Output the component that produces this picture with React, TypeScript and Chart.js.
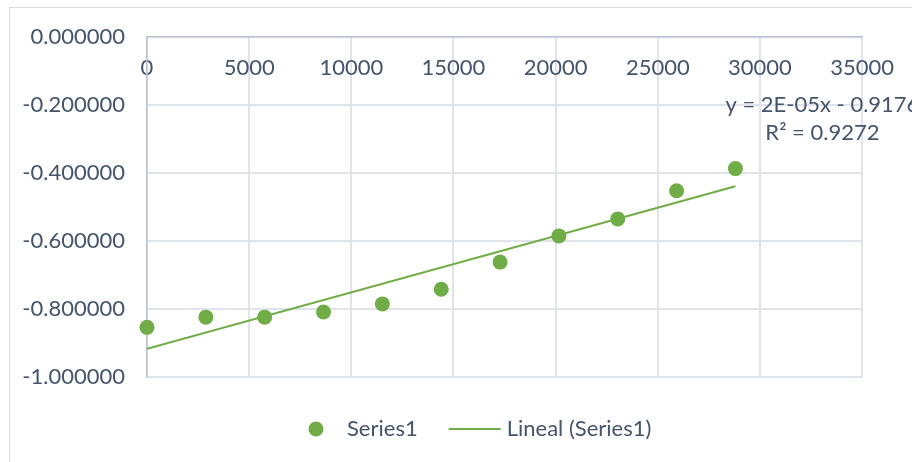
import React, { useEffect, useRef } from "react";
import { Chart, registerables } from "chart.js";

Chart.register(...registerables);

// ---- Data ----
const xValues = [0, 2880, 5760, 8640, 11520, 14400, 17280, 20160, 23040, 25920, 28800];
const yValues = [-0.854, -0.824, -0.824, -0.809, -0.785, -0.742, -0.662, -0.585, -0.535, -0.452, -0.387];
const seriesName = "Series1";
const trendName = "Lineal (Series1)";
const trendEquation = "y = 2E-05x - 0.9176";
const trendR2 = "R² = 0.9272";
const xTickValues = [0, 5000, 10000, 15000, 20000, 25000, 30000, 35000];
const yTickValues = [0, -0.2, -0.4, -0.6, -0.8, -1.0];

// ---- Style ----
const GREEN = "#70AD47";
const TEXT = "#44546A";
const GRID = "#DFE3EA";
const AXIS = "#BCC3CE";
const FONT = "Lato";
const FONT_SIZE = 22;

function linearFit(xs: number[], ys: number[]) {
  const n = xs.length;
  const mx = xs.reduce((a, b) => a + b, 0) / n;
  const my = ys.reduce((a, b) => a + b, 0) / n;
  let sxy = 0;
  let sxx = 0;
  for (let i = 0; i < n; i++) {
    sxy += (xs[i] - mx) * (ys[i] - my);
    sxx += (xs[i] - mx) * (xs[i] - mx);
  }
  const slope = sxy / sxx;
  return { slope, intercept: my - slope * mx };
}

const decorPlugin = {
  id: "decor",
  beforeDraw(chart: any) {
    const ctx = chart.ctx;
    ctx.save();
    ctx.strokeStyle = "#D9D9D9";
    ctx.lineWidth = 1;
    ctx.strokeRect(9.5, 7.5, 2000, 2000);
    ctx.restore();
  },
  afterDraw(chart: any) {
    const ctx = chart.ctx;
    const xs = chart.scales.x;
    ctx.save();
    ctx.font = `${FONT_SIZE}px ${FONT}`;
    ctx.fillStyle = TEXT;
    ctx.textBaseline = "middle";
    // trendline label
    ctx.textAlign = "center";
    const cx = xs.getPixelForValue(xValues[xValues.length - 1]) + 87;
    ctx.fillText(trendEquation, cx, 105);
    ctx.fillText(trendR2, cx, 133);

    // legend
    ctx.textAlign = "left";
    const ly = 429;
    let lx = 316;
    ctx.fillStyle = GREEN;
    ctx.beginPath();
    ctx.arc(lx, ly, 7.5, 0, Math.PI * 2);
    ctx.fill();
    lx += 31;
    ctx.fillStyle = TEXT;
    ctx.fillText(seriesName, lx, ly);
    lx += ctx.measureText(seriesName).width + 31;
    ctx.strokeStyle = GREEN;
    ctx.lineWidth = 2;
    ctx.beginPath();
    ctx.moveTo(lx, ly);
    ctx.lineTo(lx + 52, ly);
    ctx.stroke();
    lx += 58;
    ctx.fillText(trendName, lx, ly);
    ctx.restore();
  },
};

export default function App() {
  const canvasRef = useRef<HTMLCanvasElement | null>(null);

  useEffect(() => {
    if (!canvasRef.current) return;
    const fit = linearFit(xValues, yValues);
    const xStart = xValues[0];
    const xEnd = xValues[xValues.length - 1];
    const chart = new Chart(canvasRef.current, {
      type: "scatter",
      data: {
        datasets: [
          {
            label: seriesName,
            data: xValues.map((x, i) => ({ x, y: yValues[i] })),
            backgroundColor: GREEN,
            borderColor: GREEN,
            pointRadius: 7.5,
            pointBorderWidth: 0,
            showLine: false,
            clip: false,
          } as any,
          {
            label: trendName,
            data: [
              { x: xStart, y: fit.intercept + fit.slope * xStart },
              { x: xEnd, y: fit.intercept + fit.slope * xEnd },
            ],
            borderColor: GREEN,
            borderWidth: 2,
            pointRadius: 0,
            showLine: true,
          },
        ],
      },
      options: {
        animation: false,
        responsive: true,
        maintainAspectRatio: false,
        layout: { padding: { left: 0, right: 49, top: 37, bottom: 85 } },
        plugins: {
          legend: { display: false },
          tooltip: { enabled: false },
        },
        scales: {
          x: {
            type: "linear",
            position: { y: 0 } as any,
            min: xTickValues[0],
            max: xTickValues[xTickValues.length - 1],
            afterBuildTicks: (scale: any) => {
              scale.ticks = xTickValues.map((v) => ({ value: v }));
            },
            ticks: {
              color: TEXT,
              font: { family: FONT, size: FONT_SIZE },
              padding: 18,
              maxRotation: 0,
              callback: (v: any) => String(v),
            },
            grid: { color: GRID, lineWidth: 2, drawTicks: false },
            border: { color: AXIS, width: 1.5 },
          },
          y: {
            type: "linear",
            position: "left",
            min: yTickValues[yTickValues.length - 1],
            max: yTickValues[0],
            afterBuildTicks: (scale: any) => {
              scale.ticks = yTickValues.map((v) => ({ value: v }));
            },
            afterFit: (scale: any) => {
              scale.width = 147;
              scale.paddingTop = 0;
              scale.paddingBottom = 0;
            },
            ticks: {
              color: TEXT,
              font: { family: FONT, size: FONT_SIZE },
              padding: 22,
              callback: (v: any) => Number(v).toFixed(6),
            },
            grid: { color: GRID, lineWidth: 2, drawTicks: false },
            border: { color: AXIS, width: 1.5 },
          },
        },
      },
      plugins: [decorPlugin],
    });
    return () => chart.destroy();
  }, []);

  return (
    <div style={{ position: "absolute", left: 0, top: 0, width: 912, height: 462, background: "#fff" }}>
      <canvas ref={canvasRef} />
    </div>
  );
}
